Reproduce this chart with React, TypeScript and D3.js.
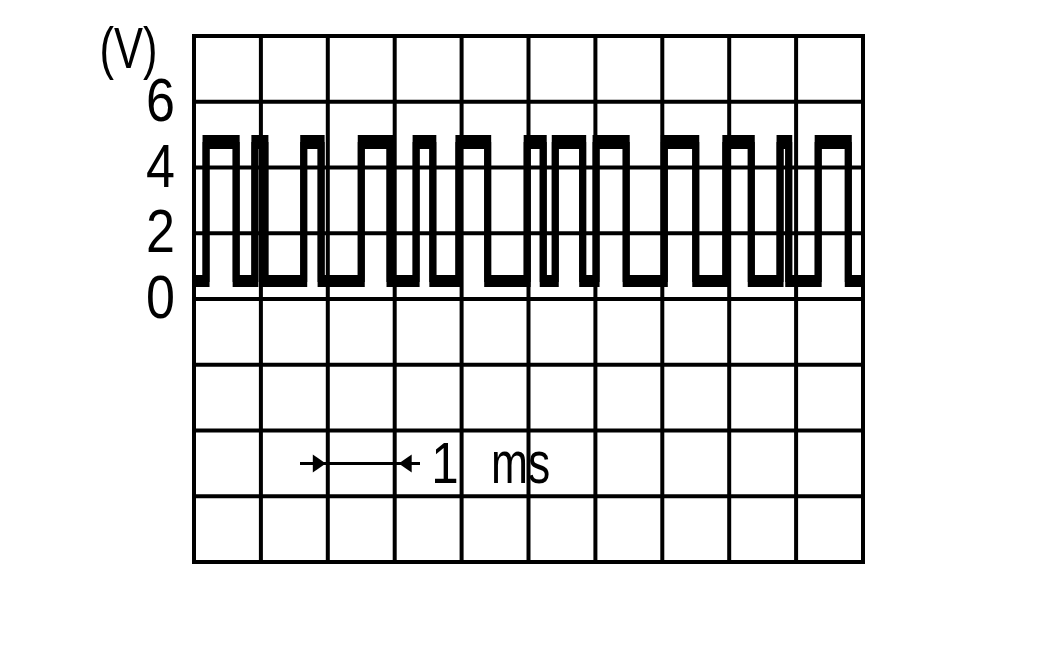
import React from "react";
import * as d3 from "d3";

// time in ms (1 division = 1 ms), voltage in V (1 division = 2 V)
const timeDomain = [0, 10];
const voltDomain = [-8, 8];
const xGridTicks = d3.range(0, 11, 1);
const yGridTicks = d3.range(-8, 9, 2);
const yTickLabels = [0, 2, 4, 6];

// square wave edges (ms)
const riseTimes = [0.18, 0.91, 1.64, 2.5, 3.32, 3.96, 4.98, 5.4, 6.01, 7.03, 7.95, 8.76, 9.33];
const fallTimes = [0.63, 1.06, 1.9, 2.93, 3.57, 4.39, 5.22, 5.81, 6.46, 7.5, 8.33, 8.89, 9.78];
const traceStart = -0.03;
const traceEnd = 9.97;
// thick trace band: upper and lower envelope levels (V)
const highLevels = [4.88, 4.67];
const lowLevels = [0.62, 0.47];

const scaleMarkFrom = 2; // ms
const scaleMarkTo = 3; // ms
const scaleMarkVolt = -5;

const W = 1052;
const H = 650;

export default function App() {
  const x = d3.scaleLinear().domain(timeDomain).range([194, 863]);
  const y = d3.scaleLinear().domain(voltDomain).range([562, 36]);

  const buildPoints = (hi: number, lo: number): [number, number][] => {
    const pts: [number, number][] = [[traceStart, lo]];
    riseTimes.forEach((r, i) => {
      pts.push([r, lo], [r, hi], [fallTimes[i], hi], [fallTimes[i], lo]);
    });
    pts.push([traceEnd, lo]);
    return pts;
  };

  const line = d3
    .line<[number, number]>()
    .x((d) => x(d[0]))
    .y((d) => y(d[1]));

  const font = "'Liberation Sans', Arial, Helvetica, sans-serif";
  const ay = y(scaleMarkVolt);
  const leftTip = x(scaleMarkFrom) - 2;
  const rightTip = x(scaleMarkTo) + 4;

  return (
    <div style={{ position: "absolute", left: 0, top: 0, width: W, height: H, background: "#fff" }}>
      <svg width={W} height={H} viewBox={`0 0 ${W} ${H}`} style={{ display: "block" }}>
        <rect width={W} height={H} fill="#fff" />
        {/* grid */}
        {xGridTicks.map((t) => (
          <line key={"vx" + t} x1={x(t)} x2={x(t)} y1={y(8)} y2={y(-8)} stroke="#000" strokeWidth={4} />
        ))}
        {yGridTicks.map((v) => (
          <line key={"hy" + v} x1={x(0)} x2={x(10)} y1={y(v)} y2={y(v)} stroke="#000" strokeWidth={4} />
        ))}
        <rect
          x={x(0)}
          y={y(8)}
          width={x(10) - x(0)}
          height={y(-8) - y(8)}
          fill="none"
          stroke="#000"
          strokeWidth={4}
        />
        {/* trace */}
        {highLevels.map((hi, i) => (
          <path
            key={"tr" + i}
            d={line(buildPoints(hi, lowLevels[i])) || ""}
            fill="none"
            stroke="#000"
            strokeWidth={7}
            strokeLinejoin="miter"
          />
        ))}
        {/* y labels */}
        {yTickLabels.map((v) => (
          <text
            key={"yl" + v}
            transform={`translate(175,${y(v) + 19}) scale(0.84,1)`}
            textAnchor="end"
            fontFamily={font}
            fontSize={62}
            fill="#000"
          >
            {v}
          </text>
        ))}
        <text
          transform={`translate(128.5,68) scale(0.75,1)`}
          textAnchor="middle"
          fontFamily={font}
          fontSize={58}
          fill="#000"
        >
          (V)
        </text>
        {/* 1 ms scale mark */}
        <line x1={300} x2={420} y1={ay} y2={ay} stroke="#000" strokeWidth={3} />
        <path
          d={`M${leftTip},${ay} L${leftTip - 13},${ay - 9} L${leftTip - 13},${ay + 9} Z`}
          fill="#000"
        />
        <path
          d={`M${rightTip},${ay} L${rightTip + 13},${ay - 9} L${rightTip + 13},${ay + 9} Z`}
          fill="#000"
        />
        <text
          transform={`translate(445,483) scale(0.85,1)`}
          textAnchor="middle"
          fontFamily={font}
          fontSize={58}
          fill="#000"
        >
          1
        </text>
        <text
          transform={`translate(520.5,483) scale(0.74,1)`}
          textAnchor="middle"
          fontFamily={font}
          fontSize={60}
          fill="#000"
        >
          ms
        </text>
      </svg>
    </div>
  );
}
